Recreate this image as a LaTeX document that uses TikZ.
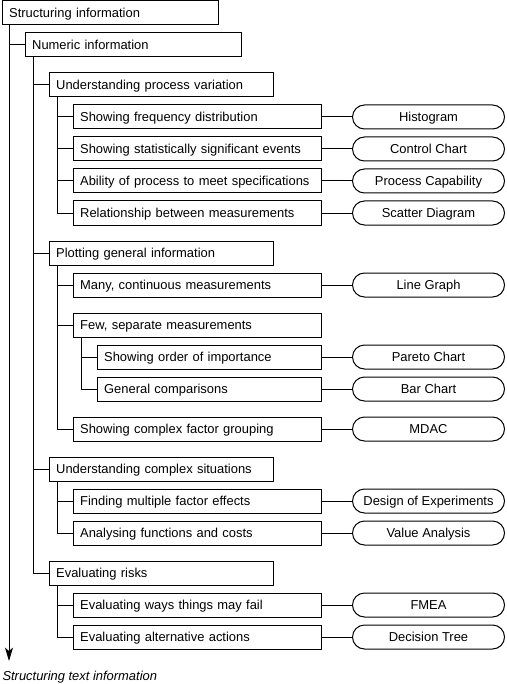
\documentclass[tikz,border=0pt]{standalone}
\usepackage{fontspec}
\setmainfont{Liberation Sans}
\usetikzlibrary{arrows.meta}

\begin{document}
\begin{tikzpicture}[x=0.75pt, y=-0.75pt, line width=0.75pt,
  every node/.style={font=\fontsize{9.7}{11}\selectfont},
  box/.style={draw, anchor=west, minimum height=18pt, inner xsep=5pt, inner ysep=0pt, align=left, text width=#1, text height=7pt, text depth=0pt},
  tool/.style={draw, rounded corners=9pt, anchor=west, minimum height=18pt, minimum width=114pt, inner sep=0pt, text height=7pt, text depth=0pt}]

\useasboundingbox (0,0) rectangle (506,684);

% Level 0 and 1
\node[box=152pt] (root) at (2,13) {Structuring information};
\node[box=152pt] (num) at (25,45) {Numeric information};

% Understanding process variation
\node[box=158pt] (upv) at (49,85) {Understanding process variation};
\node[box=176pt] (sfd) at (73,117) {Showing frequency distribution};
\node[box=176pt] (sse) at (73,149) {Showing statistically significant events};
\node[box=176pt] (apm) at (73,181) {Ability of process to meet specifications};
\node[box=176pt] (rbm) at (73,213) {Relationship between measurements};
\node[tool] (hist) at (352,117) {Histogram};
\node[tool] (ctrl) at (352,149) {Control Chart};
\node[tool] (pcap) at (352,181) {Process Capability};
\node[tool] (scat) at (352,213) {Scatter Diagram};

% Plotting general information
\node[box=158pt] (pgi) at (49,253) {Plotting general information};
\node[box=176pt] (mcm) at (73,285) {Many, continuous measurements};
\node[box=176pt] (fsm) at (73,325) {Few, separate measurements};
\node[box=158pt] (soi) at (97,357) {Showing order of importance};
\node[box=158pt] (gcp) at (97,389) {General comparisons};
\node[box=176pt] (scf) at (73,429) {Showing complex factor grouping};
\node[tool] (line) at (352,285) {Line Graph};
\node[tool] (pare) at (352,357) {Pareto Chart};
\node[tool] (bar) at (352,389) {Bar Chart};
\node[tool] (mdac) at (352,429) {MDAC};

% Understanding complex situations
\node[box=158pt] (ucs) at (49,469) {Understanding complex situations};
\node[box=176pt] (fmf) at (73,501) {Finding multiple factor effects};
\node[box=176pt] (afc) at (73,533) {Analysing functions and costs};
\node[tool] (doe) at (352,501) {Design of Experiments};
\node[tool] (val) at (352,533) {Value Analysis};

% Evaluating risks
\node[box=158pt] (evr) at (49,573) {Evaluating risks};
\node[box=176pt] (ewf) at (73,605) {Evaluating ways things may fail};
\node[box=176pt] (eaa) at (73,637) {Evaluating alternative actions};
\node[tool] (fmea) at (352,605) {FMEA};
\node[tool] (dtre) at (352,637) {Decision Tree};

% Main arrow
\coordinate (tip) at (9,661);
\node[anchor=west, font=\fontsize{9.7}{11}\selectfont\itshape, inner sep=0pt] (txt) at (2,677) {Structuring text information};
\draw[-{Stealth[length=10pt, width=6pt, inset=2.5pt]}] ([xshift=5.25pt]root.south west) -- (tip);

% Tree connectors
\draw ([xshift=5.25pt]root.south west) |- (num.west);
\foreach \c in {upv,pgi,ucs,evr}
  \draw ([xshift=6pt]num.south west) |- (\c.west);
\foreach \c in {sfd,sse,apm,rbm}
  \draw ([xshift=6pt]upv.south west) |- (\c.west);
\foreach \c in {mcm,fsm,scf}
  \draw ([xshift=6pt]pgi.south west) |- (\c.west);
\foreach \c in {soi,gcp}
  \draw ([xshift=6pt]fsm.south west) |- (\c.west);
\foreach \c in {fmf,afc}
  \draw ([xshift=6pt]ucs.south west) |- (\c.west);
\foreach \c in {ewf,eaa}
  \draw ([xshift=6pt]evr.south west) |- (\c.west);

% Links to tools
\foreach \a/\b in {sfd/hist,sse/ctrl,apm/pcap,rbm/scat,mcm/line,soi/pare,gcp/bar,scf/mdac,fmf/doe,afc/val,ewf/fmea,eaa/dtre}
  \draw (\a.east) -- (\b.west);

\end{tikzpicture}
\end{document}
